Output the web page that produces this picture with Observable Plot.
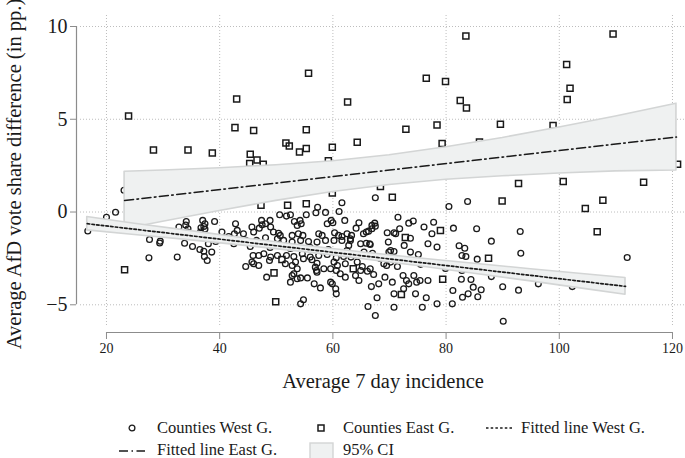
<!DOCTYPE html>
<html><head><meta charset="utf-8">
<script src="https://cdn.jsdelivr.net/npm/d3@7"></script>
<script src="https://cdn.jsdelivr.net/npm/@observablehq/plot@0.6"></script>
<style>
body{margin:0;background:#fff;}
#wrap{position:relative;width:685px;height:458px;font-family:"Liberation Serif","Times New Roman",serif;color:#1a1a1a;overflow:hidden}
.lg{position:absolute;font-size:16.5px;line-height:16px;white-space:nowrap}
.key{position:absolute;line-height:0}
.key svg{display:block}
</style></head><body><div id="wrap"><div id="chart"></div><div id="legend"></div></div>
<script>
// West German counties (circles)
const westX=[16.7,20.0,21.6,23.1,27.6,29.5,29.4,27.5,32.5,34.1,34.0,32.8,34.4,34.3,37.0,39.1,37.2,37.4,36.7,37.4,36.6,40.4,42.8,43.1,42.6,33.8,35.2,36.5,37.2,38.0,38.6,37.3,37.8,42.5,35.7,38.4,41.0,39.3,41.6,
57.3,57.0,58.7,55.3,50.6,51.8,52.5,59.7,59.0,60.0,47.4,48.9,47.5,48.1,53.2,54.2,53.7,54.4,45.7,47.0,49.0,49.5,44.2,46.0,50.4,50.7,52.8,53.9,54.7,57.5,58.1,60.3,61.0,44.6,46.5,48.1,50.2,51.3,52.8,54.3,55.7,57.2,58.7,60.2,45.9,47.8,49.0,50.2,51.8,53.1,54.6,56.0,57.5,59.0,60.6,44.6,46.0,46.9,48.8,51.6,53.4,54.8,56.3,57.2,60.2,60.8,48.3,52.5,53.1,53.7,54.3,55.5,56.7,57.1,58.4,57.8,59.6,60.6,59.9,60.5,60.6,54.8,54.3,45.7,52.8,53.7,52.8,57.2,56.9,59.6,46.9,45.4,48.9,52.5,56.0,59.2,61.1,
61.6,67.5,71.5,62.1,64.6,64.1,65.9,66.9,67.4,62.5,63.3,69.6,70.8,73.4,74.2,76.1,77.8,77.5,80.5,81.3,83.8,61.6,62.8,63.1,64.9,65.9,66.5,69.8,70.8,72.6,73.7,75.1,76.8,78.4,82.3,83.3,61.9,63.2,64.3,65.5,67.0,69.9,70.2,71.4,62.2,64.3,65.2,66.6,69.0,82.8,83.5,61.3,62.2,64.0,64.6,64.9,66.1,66.8,68.1,69.2,70.5,72.4,73.0,74.3,75.4,76.8,73.4,72.5,70.8,74.6,76.5,78.4,81.1,81.2,82.7,82.9,83.9,67.8,66.2,67.5,70.8,75.8,67.5,65.4,66.3,66.9,71.1,71.8,73.7,61.6,63.1,66.6,70.2,62.5,67.2,74.8,69.5,68.4,75.5,79.9,
85.4,93.1,88.0,85.5,93.2,82.8,88.0,84.4,96.3,90.0,92.8,84.8,86.2,85.6,90.1,112.0,102.3];
const westY=[-1.02,-0.28,-0.01,1.17,-1.48,-1.57,-1.67,-2.47,-2.43,-0.51,-0.70,-0.81,-0.90,-1.08,-0.45,-0.51,-0.78,-0.63,-0.85,-0.92,-1.08,-1.08,-0.63,-0.99,-1.17,-1.68,-1.86,-2.02,-2.11,-1.71,-2.16,-2.40,-2.61,-1.71,-1.26,-1.32,-1.42,-1.59,-1.32,
0.26,-0.04,-0.02,-0.15,-0.15,-0.22,-0.15,-0.45,-0.63,-0.58,-0.45,-0.45,-0.69,-0.63,-0.51,-0.45,-0.72,-0.63,-0.81,-0.87,-0.81,-1.08,-1.17,-1.08,-1.14,-1.26,-1.26,-1.17,-1.26,-1.17,-1.26,-1.12,-1.26,-1.53,-1.53,-1.39,-1.44,-1.53,-1.62,-1.53,-1.59,-1.62,-1.53,-1.53,-2.34,-2.25,-2.43,-2.34,-2.34,-2.40,-2.25,-2.43,-2.34,-2.29,-2.47,-2.94,-2.79,-2.88,-2.61,-2.79,-2.70,-2.52,-2.57,-2.76,-2.70,-2.88,-3.51,-3.78,-3.33,-3.60,-3.55,-3.55,-3.87,-3.15,-3.06,-4.09,-3.06,-3.15,-3.87,-4.14,-4.41,-4.73,-4.95,-2.70,-2.88,-3.06,-3.42,-3.24,-2.97,-3.78,-2.34,-1.86,-1.91,-1.96,-1.91,-2.02,0.03,
0.50,0.77,-0.28,-0.45,-0.58,-0.87,-1.08,-0.72,-0.60,-1.17,-1.26,-1.12,-1.12,-0.60,-0.49,-0.81,-0.55,-1.17,0.30,-0.87,0.57,-1.53,-1.80,-1.53,-1.71,-1.68,-1.71,-1.62,-2.13,-1.80,-2.16,-2.29,-1.71,-1.89,-1.82,-1.95,-2.40,-2.43,-2.29,-2.16,-2.22,-2.16,-2.70,-2.94,-2.79,-2.70,-2.94,-3.06,-2.79,-2.34,-2.40,-3.33,-3.51,-3.42,-3.69,-3.15,-3.19,-4.02,-3.87,-3.51,-3.78,-3.42,-3.69,-3.42,-3.69,-3.69,-3.87,-4.14,-4.41,-4.41,-4.62,-4.95,-4.95,-4.23,-3.62,-4.59,-4.41,-4.62,-5.09,-5.58,-5.13,-5.13,-0.76,-1.17,-1.03,-0.90,-1.17,-0.90,-1.41,-1.32,-1.44,-1.75,-2.07,-2.07,-3.37,-3.78,-2.88,-2.50,-2.82,-3.04,
-0.90,-1.05,-1.57,-2.54,-2.22,-3.15,-3.48,-3.64,-3.87,-4.03,-4.21,-4.05,-4.19,-4.57,-5.89,-2.45,-4.02];
// East German counties (squares)
const eastX=[23.9,28.3,34.4,38.7,43.0,42.7,23.2,46.0,55.7,62.6,55.3,51.7,52.3,45.4,46.6,45.3,47.7,54.1,55.3,59.9,64.3,59.2,72.9,76.5,79.9,78.4,79.3,82.5,83.6,83.5,59.9,68.4,70.5,89.6,85.9,98.9,101.3,101.9,101.4,109.5,92.8,100.7,114.9,120.9,89.9,107.7,104.6,106.7,87.5,52.0,55.3,79.0,72.8,51.0,49.6,63.6,79.4,72.1,49.9,47.3];
const eastY=[5.18,3.34,3.34,3.18,6.09,4.55,-3.11,4.40,7.48,5.93,4.44,3.72,3.56,3.12,2.80,2.61,2.57,3.23,3.42,3.49,3.76,2.77,4.46,7.21,7.03,4.69,3.69,6.01,5.61,9.49,1.02,1.38,0.80,4.73,3.77,4.66,7.95,6.67,6.06,9.60,1.54,1.65,1.60,2.57,0.60,0.63,0.19,-1.06,-2.49,0.36,0.45,-0.99,-1.37,-2.56,-3.28,-3.06,-3.62,-4.45,-4.84,0.36];
// Fitted lines
const eastFitX=[23.2,120.7], eastFitY=[0.62,4.04];
const westFitX=[16.6,111.7], westFitY=[-0.63,-4.01];
// 95% confidence bands
const eastCiX=[23.2,30,40,50,60,70,80,90,100,110,120.7];
const eastCiLo=[-0.93,-0.52,0.06,0.60,1.08,1.46,1.74,1.93,2.08,2.19,2.24];
const eastCiHi=[2.17,2.24,2.36,2.52,2.74,3.06,3.49,3.99,4.56,5.15,5.84];
const westCiX=[16.6,25,35,45,55,65,75,85,95,105,111.7];
const westCiLo=[-0.99,-1.24,-1.53,-1.84,-2.16,-2.53,-2.91,-3.33,-3.74,-4.17,-4.46];
const westCiHi=[-0.27,-0.63,-1.03,-1.44,-1.82,-2.17,-2.49,-2.79,-3.08,-3.37,-3.56];
// Axes
const xTicks=[20,40,60,80,100,120];
const yTicks=[-5,0,5,10];
const xDomain=[15.41,122.3];
const yDomain=[-6.17,10.593];
const xLabel="Average 7 day incidence";
const yLabel="Average AfD vote share difference (in pp.)";
const legendLabels=["Counties West G.","Counties East G.","Fitted line West G.","Fitted line East G.","95% CI"];

const FONT='"Liberation Serif","Times New Roman",serif';
const INK="#1a1a1a", AXIS="#8c8c8c", GRID="#bdbdbd";
const west=westX.map((x,i)=>({x,y:westY[i]}));
const east=eastX.map((x,i)=>({x,y:eastY[i]}));
const eastFit=eastFitX.map((x,i)=>({x,y:eastFitY[i]}));
const westFit=westFitX.map((x,i)=>({x,y:westFitY[i]}));
const eastCi=eastCiX.map((x,i)=>({x,lo:eastCiLo[i],hi:eastCiHi[i]}));
const westCi=westCiX.map((x,i)=>({x,lo:westCiLo[i],hi:westCiHi[i]}));

const chart=Plot.plot({
  width:685,height:405,marginLeft:80,marginRight:0,marginTop:15,marginBottom:79,
  style:{fontFamily:FONT,background:"transparent",color:INK,overflow:"visible"},
  x:{domain:xDomain,label:null},
  y:{domain:yDomain,label:null},
  marks:[
    Plot.gridX({ticks:xTicks,stroke:GRID,strokeOpacity:1,strokeDasharray:"1,2"}),
    Plot.gridY({ticks:yTicks,stroke:GRID,strokeOpacity:1,strokeDasharray:"1,2"}),
    Plot.dot(west,{x:"x",y:"y",r:2.9,stroke:INK,strokeWidth:1.3,fill:"none"}),
    Plot.dot(east,{x:"x",y:"y",symbol:"square",r:3.4,stroke:INK,strokeWidth:1.5,fill:"none"}),
    Plot.areaY(eastCi,{x:"x",y1:"lo",y2:"hi",fill:"#eff1f1",stroke:"#d3d5d5",strokeWidth:1.6}),
    Plot.areaY(westCi,{x:"x",y1:"lo",y2:"hi",fill:"#eff1f1",stroke:"#d3d5d5",strokeWidth:1.6}),
    Plot.line(eastFit,{x:"x",y:"y",stroke:INK,strokeWidth:1.6,strokeDasharray:"9,3.5,1.5,3.5"}),
    Plot.line(westFit,{x:"x",y:"y",stroke:INK,strokeWidth:1.7,strokeDasharray:"2.5,2.2"}),
    Plot.ruleY([yDomain[0]],{x1:xTicks[0],x2:xTicks[xTicks.length-1],dy:6,stroke:AXIS,strokeWidth:1.2}),
    Plot.ruleX([xDomain[0]],{y1:yTicks[0],y2:yTicks[yTicks.length-1],dx:-4,stroke:AXIS,strokeWidth:1.2}),
    Plot.axisX({ticks:xTicks,tickSize:7,tickPadding:4,dy:6,fontSize:14,stroke:AXIS,fill:INK,label:null}),
    Plot.axisY({ticks:yTicks,tickSize:6,tickPadding:3,dx:-4,fontSize:20,stroke:AXIS,fill:INK,label:null}),
    Plot.text([xLabel],{frameAnchor:"bottom",dy:61,fontSize:20.5,fill:INK,textAnchor:"middle"}),
    Plot.text([yLabel],{frameAnchor:"left",dx:-66,dy:3,rotate:-90,fontSize:20.5,fill:INK,textAnchor:"middle"})
  ]
});
document.getElementById("chart").appendChild(chart);

// Legend (HTML below the SVG)
const lg=document.getElementById("legend");
const items=[
  {key:'<svg width="12" height="12"><circle cx="6" cy="6" r="2.9" fill="none" stroke="'+INK+'" stroke-width="1.3"/></svg>',kx:126,ky:422,tx:157,ty:428,label:legendLabels[0]},
  {key:'<svg width="12" height="12"><rect x="3" y="3" width="6" height="6" fill="none" stroke="'+INK+'" stroke-width="1.5"/></svg>',kx:315,ky:422,tx:343,ty:428,label:legendLabels[1]},
  {key:'<svg width="28" height="6"><line x1="1" y1="3" x2="27" y2="3" stroke="'+INK+'" stroke-width="1.7" stroke-dasharray="2.5,2.2"/></svg>',kx:485,ky:425,tx:521,ty:428,label:legendLabels[2]},
  {key:'<svg width="28" height="6"><line x1="0" y1="3" x2="26" y2="3" stroke="'+INK+'" stroke-width="1.6" stroke-dasharray="9,3.5,1.5,3.5"/></svg>',kx:119,ky:448,tx:157,ty:450,label:legendLabels[3]},
  {key:'<svg width="26" height="20"><rect x="1" y="1" width="23" height="18" fill="#eff1f1" stroke="#d3d5d5" stroke-width="1.4"/></svg>',kx:309,ky:442,tx:343,ty:450,label:legendLabels[4]}
];
for(const it of items){
  const k=document.createElement("div");k.className="key";k.style.left=it.kx+"px";k.style.top=it.ky+"px";k.innerHTML=it.key;lg.appendChild(k);
  const t=document.createElement("div");t.className="lg";t.style.left=it.tx+"px";t.style.top=(it.ty-8)+"px";t.textContent=it.label;lg.appendChild(t);
}
</script></body></html>
